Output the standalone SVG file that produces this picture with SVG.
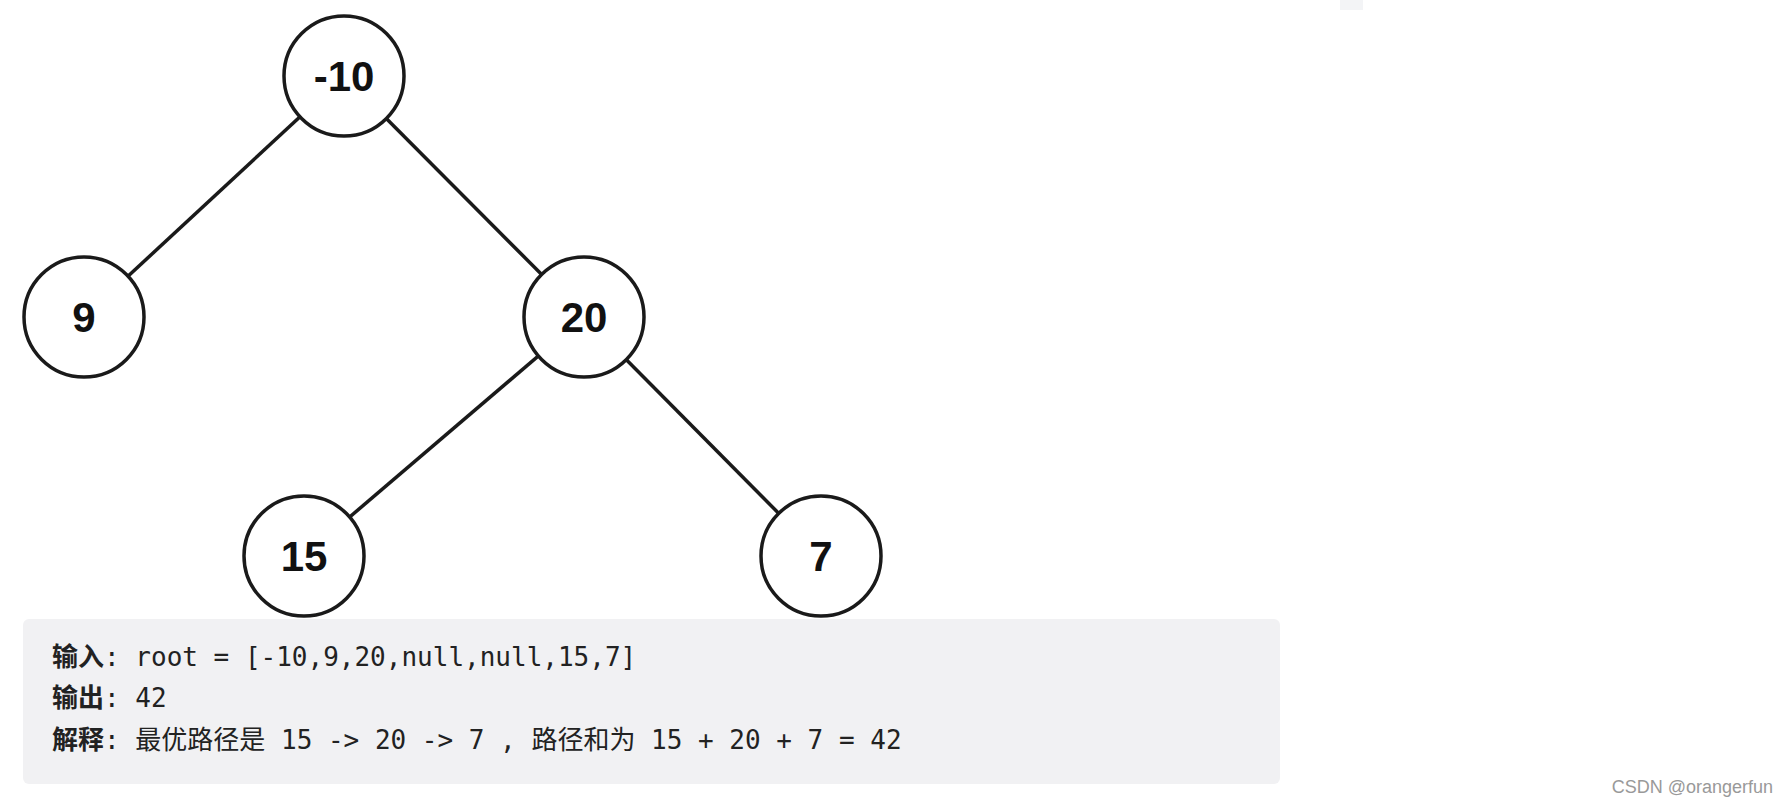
<svg xmlns="http://www.w3.org/2000/svg" width="1788" height="806" viewBox="0 0 1788 806">
<style>
.n circle{fill:#fff;stroke:#1a1a1a;stroke-width:3.5}
.n text{font-family:"Liberation Sans",Arial,sans-serif;font-weight:bold;font-size:42px;text-anchor:middle;fill:#111}
.e line{stroke:#1a1a1a;stroke-width:3.5}
.t{font-family:"DejaVu Sans Mono","Noto Sans CJK SC",monospace;font-size:26px;fill:#222}
.b{font-family:"Noto Sans CJK SC",sans-serif;font-weight:bold}
</style>
<rect width="1788" height="806" fill="#fff"/>
<rect x="1340" y="0" width="23" height="10" fill="#f3f4f6"/>
<g id="connectors" class="e">
<line x1="344" y1="76" x2="84" y2="317"/>
<line x1="344" y1="76" x2="584" y2="317"/>
<line x1="584" y1="317" x2="304" y2="556"/>
<line x1="584" y1="317" x2="821" y2="556"/>
</g>
<g id="n-10" class="n"><circle cx="344" cy="76" r="60"/><text x="344" y="91">-10</text></g>
<g id="n9" class="n"><circle cx="84" cy="317" r="60"/><text x="84" y="332">9</text></g>
<g id="n20" class="n"><circle cx="584" cy="317" r="60"/><text x="584" y="332">20</text></g>
<g id="n15" class="n"><circle cx="304" cy="556" r="60"/><text x="304" y="571">15</text></g>
<g id="n7" class="n"><circle cx="821" cy="556" r="60"/><text x="821" y="571">7</text></g>
<g id="box">
<rect x="23" y="619" width="1257" height="165" rx="6" fill="#f1f1f3"/>
<text class="t" x="52" y="666"><tspan class="b">输入</tspan>: root = [-10,9,20,null,null,15,7]</text>
<text class="t" x="52" y="707"><tspan class="b">输出</tspan>: 42</text>
<text class="t" x="52" y="749"><tspan class="b">解释</tspan>: 最优路径是 15 -&gt; 20 -&gt; 7 , 路径和为 15 + 20 + 7 = 42</text>
</g>
<text x="1773" y="793" text-anchor="end" font-family="'Liberation Sans',Arial,sans-serif" font-size="18" fill="#999">CSDN @orangerfun</text>
</svg>
